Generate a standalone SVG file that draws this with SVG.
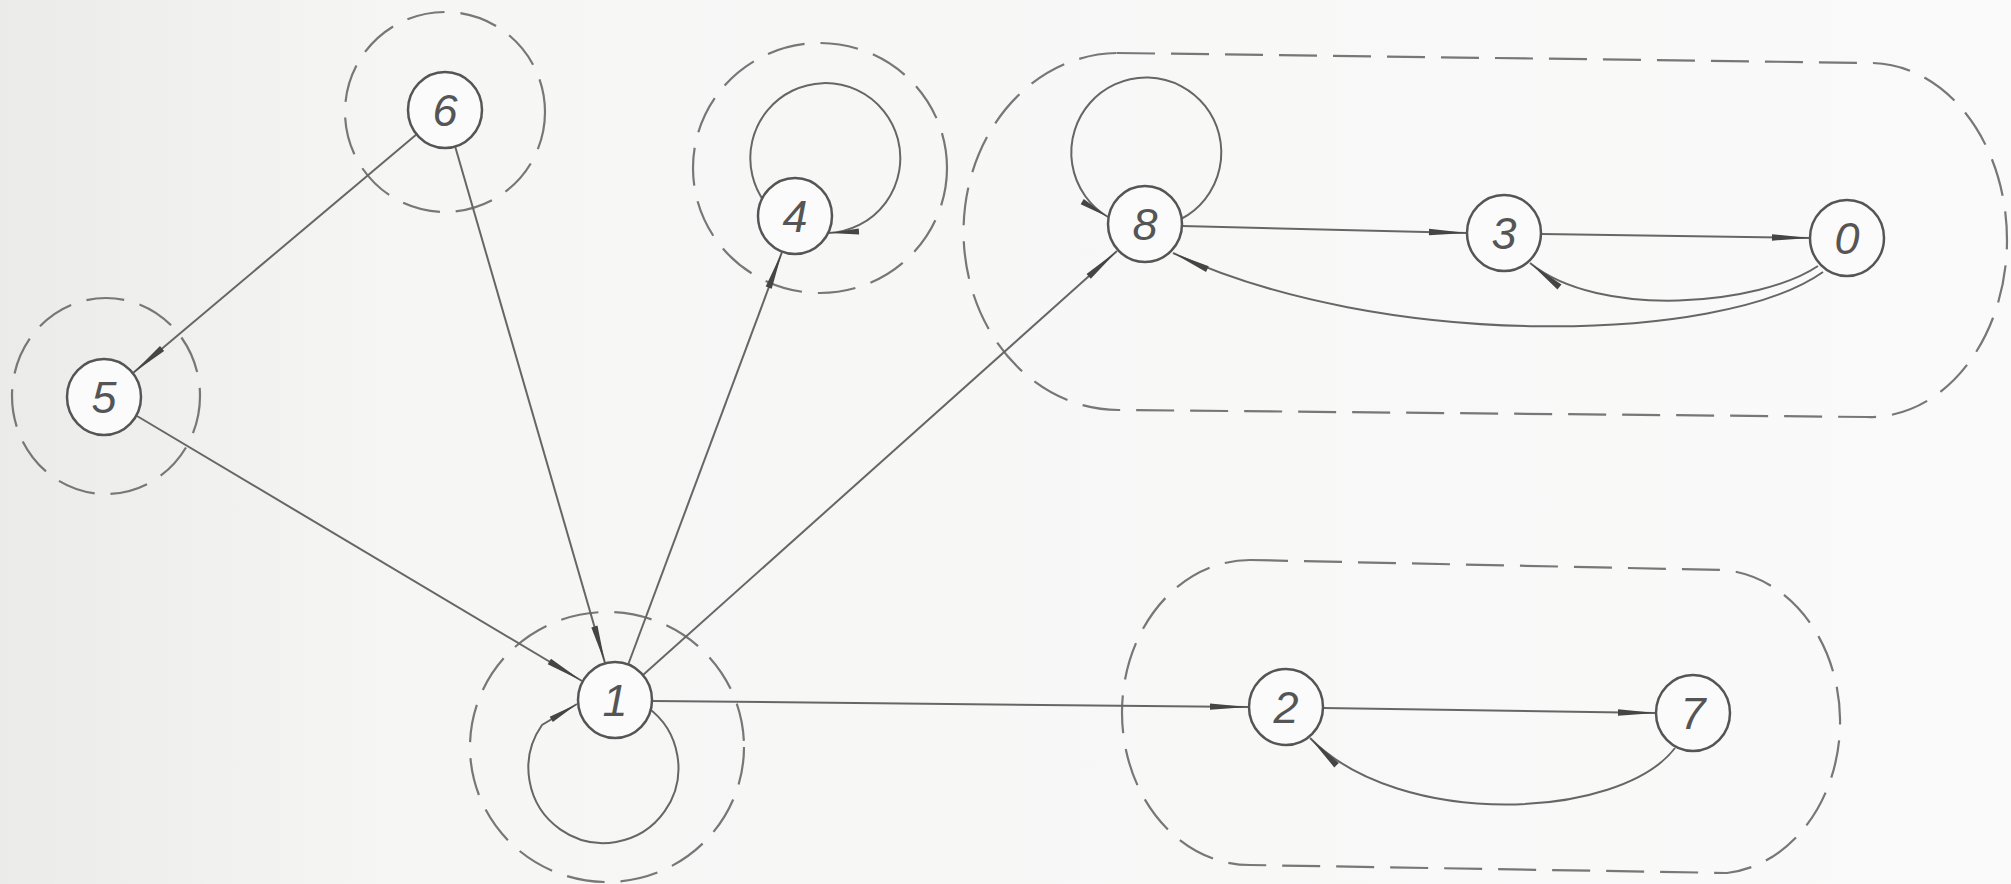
<svg xmlns="http://www.w3.org/2000/svg" width="2011" height="884" viewBox="0 0 2011 884">
<defs>
<linearGradient id="bg" x1="0" y1="0" x2="1" y2="0">
<stop offset="0" stop-color="#ebebea"/>
<stop offset="0.2" stop-color="#f6f6f5"/>
<stop offset="1" stop-color="#fafafa"/>
</linearGradient>
<marker id="arr" markerUnits="userSpaceOnUse" viewBox="-40 -4 41 8" markerWidth="41" markerHeight="8" refX="0" refY="0" orient="auto">
<path d="M0,0 L-38,-3.2 L-38,3.2 Z" fill="#454545"/>
</marker>
<marker id="arrs" markerUnits="userSpaceOnUse" viewBox="-32 -4 33 8" markerWidth="33" markerHeight="8" refX="0" refY="0" orient="auto">
<path d="M0,0 L-30,-3 L-30,3 Z" fill="#454545"/>
</marker>
</defs>
<style>
.grp{fill:none;stroke:#777;stroke-width:2.2;stroke-dasharray:38 16}
.e{fill:none;stroke:#666;stroke-width:2;marker-end:url(#arr)}
.l{fill:none;stroke:#666;stroke-width:2;marker-end:url(#arrs)}
.n ellipse{fill:#fbfbfb;stroke:#555;stroke-width:2.5}
.n text{font-family:"Liberation Sans",Arial,sans-serif;font-style:italic;font-size:45px;fill:#555;text-anchor:middle}
</style>
<rect x="0" y="0" width="2011" height="884" fill="url(#bg)"/>
<g id="groups">
<ellipse class="grp" cx="445" cy="112" rx="100" ry="100"/>
<ellipse class="grp" cx="106" cy="396" rx="94" ry="98"/>
<ellipse class="grp" cx="820" cy="168" rx="127" ry="125"/>
<ellipse class="grp" cx="607" cy="747" rx="137" ry="135"/>
<path class="grp" d="M1117,53 L1873,63 A137,177 0 0 1 1867,417 L1120,410 A155,178.5 0 0 1 1117,53 Z"/>
<path class="grp" d="M1250,560 L1723,570 A125,152 0 0 1 1727,873 L1250,865 A128,152.5 0 0 1 1250,560 Z"/>
</g>
<g id="connectors">
<line class="e" x1="417" y1="134" x2="133" y2="373"/>
<line class="e" x1="455" y1="146" x2="605" y2="663"/>
<line class="e" x1="137" y1="416" x2="582" y2="681"/>
<line class="e" x1="628" y1="665" x2="782" y2="252"/>
<line class="e" x1="643" y1="675" x2="1117" y2="251"/>
<line class="e" x1="653" y1="701" x2="1248" y2="707"/>
<line class="e" x1="1182" y1="226" x2="1467" y2="233"/>
<line class="e" x1="1542" y1="234" x2="1810" y2="238"/>
<line class="e" x1="1323" y1="708" x2="1656" y2="713"/>
<path class="e" d="M1818,266 C1760,305 1600,320 1530,263"/>
<path class="e" d="M1823,272 C1720,345 1380,350 1173,253"/>
<path class="e" d="M1675,748 C1620,820 1400,830 1310,738"/>
<path class="l" d="M766,204 A75,75 0 1 1 829,233"/>
<path class="l" d="M1181,219 A75,75 0 1 0 1108,217"/>
<path class="l" d="M647,707 A75,75 0 1 1 542,725 L577,704"/>
</g>
<g id="node0" class="n"><ellipse cx="1847" cy="238" rx="37" ry="38"/><text x="1847" y="254">0</text></g>
<g id="node1" class="n"><ellipse cx="615" cy="700" rx="37" ry="38"/><text x="615" y="716">1</text></g>
<g id="node2" class="n"><ellipse cx="1286" cy="707" rx="37" ry="38"/><text x="1286" y="723">2</text></g>
<g id="node3" class="n"><ellipse cx="1504" cy="233" rx="37" ry="38"/><text x="1504" y="249">3</text></g>
<g id="node4" class="n"><ellipse cx="795" cy="216" rx="37" ry="38"/><text x="795" y="232">4</text></g>
<g id="node5" class="n"><ellipse cx="104" cy="397" rx="37" ry="38"/><text x="104" y="413">5</text></g>
<g id="node6" class="n"><ellipse cx="445" cy="110" rx="37" ry="38"/><text x="445" y="126">6</text></g>
<g id="node7" class="n"><ellipse cx="1693" cy="713" rx="37" ry="38"/><text x="1693" y="729">7</text></g>
<g id="node8" class="n"><ellipse cx="1145" cy="224" rx="37" ry="38"/><text x="1145" y="240">8</text></g>
</svg>
